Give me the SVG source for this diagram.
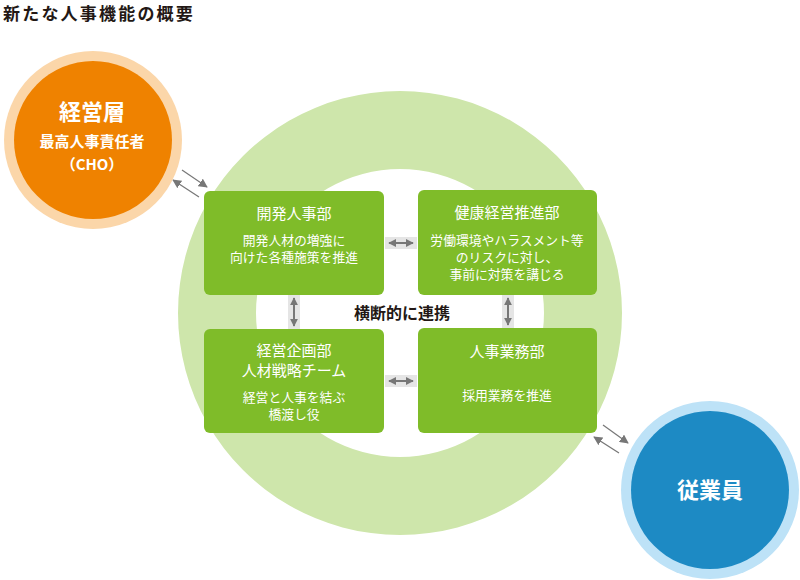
<svg xmlns="http://www.w3.org/2000/svg" width="800" height="580" viewBox="0 0 800 580">
<defs>
<style>
.t{font-family:"Noto Sans CJK JP","Noto Sans",sans-serif;}
.title{font-size:17px;font-weight:bold;fill:#231815;}
.box{fill:#7fbc29;}
.bt{font-size:15px;fill:#fff;text-anchor:middle;font-weight:normal;}
.bd{font-size:12.8px;fill:#fff;text-anchor:middle;}
.cw{fill:#fff;text-anchor:middle;font-weight:bold;}
.conn{stroke:#777;stroke-width:1.2;fill:none;}
.gbg{fill:#e5e5e5;}
.dbl{stroke:#777;stroke-width:2;fill:none;}
</style>
<marker id="ah" viewBox="0 0 10 10" refX="9" refY="5" markerWidth="9" markerHeight="9" markerUnits="userSpaceOnUse" orient="auto"><path d="M0,0 L10,5 L0,10 z" fill="#777"/></marker>
<marker id="ah2" viewBox="0 0 10 10" refX="9" refY="5" markerWidth="8" markerHeight="8" markerUnits="userSpaceOnUse" orient="auto-start-reverse"><path d="M0,0 L10,5 L0,10 z" fill="#777"/></marker>
</defs>
<rect width="800" height="580" fill="#fff"/>
<text class="t title" x="3" y="19.5" letter-spacing="2.2">新たな人事機能の概要</text>

<g id="ring">
<path d="M400,91 a222,222 0 1,0 0.01,0 z M400,169 a144,144 0 1,1 -0.01,0 z" fill="#cee6ab" fill-rule="evenodd"/>
</g>

<g id="connectors">
<line class="conn" x1="182" y1="170" x2="207" y2="187" marker-end="url(#ah)"/>
<line class="conn" x1="199" y1="197" x2="173" y2="180" marker-end="url(#ah)"/>
<line class="conn" x1="603" y1="425" x2="628" y2="443" marker-end="url(#ah)"/>
<line class="conn" x1="619" y1="453" x2="594" y2="437" marker-end="url(#ah)"/>
<rect class="gbg" x="385" y="237" width="32" height="12"/>
<line class="dbl" x1="389" y1="243" x2="413" y2="243" marker-start="url(#ah2)" marker-end="url(#ah2)"/>
<rect class="gbg" x="385" y="375" width="32" height="12"/>
<line class="dbl" x1="389" y1="381" x2="413" y2="381" marker-start="url(#ah2)" marker-end="url(#ah2)"/>
<rect class="gbg" x="288" y="295" width="12" height="34"/>
<line class="dbl" x1="294" y1="298" x2="294" y2="326" marker-start="url(#ah2)" marker-end="url(#ah2)"/>
<rect class="gbg" x="502" y="295" width="12" height="33"/>
<line class="dbl" x1="508" y1="298" x2="508" y2="325" marker-start="url(#ah2)" marker-end="url(#ah2)"/>
</g>

<text class="t" x="402" y="319" font-size="16" font-weight="bold" fill="#231815" text-anchor="middle">横断的に連携</text>

<g id="executive">
<circle cx="93" cy="140" r="89" fill="#fbd6a9"/>
<circle cx="93" cy="140" r="79" fill="#ef8200"/>
<text class="t cw" x="92" y="120" font-size="22">経営層</text>
<text class="t cw" x="92" y="147" font-size="15">最高人事責任者</text>
<text class="t cw" x="92" y="170" font-size="15">（CHO）</text>
</g>

<g id="employee">
<circle cx="710" cy="490" r="89" fill="#bde2f7"/>
<circle cx="710" cy="490" r="79" fill="#1d8ac4"/>
<text class="t cw" x="710" y="498" font-size="22">従業員</text>
</g>

<g id="dev-hr">
<rect class="box" x="204" y="191" width="180" height="104" rx="6"/>
<text class="t bt" x="294" y="219">開発人事部</text>
<text class="t bd" x="294" y="245">開発人材の増強に<tspan x="294" dy="17">向けた各種施策を推進</tspan></text>
</g>

<g id="health">
<rect class="box" x="418" y="190" width="179" height="105" rx="6"/>
<text class="t bt" x="507" y="218">健康経営推進部</text>
<text class="t bd" x="507" y="245">労働環境やハラスメント等<tspan x="507" dy="17">のリスクに対し、</tspan><tspan x="507" dy="16.5">事前に対策を講じる</tspan></text>
</g>

<g id="planning">
<rect class="box" x="204" y="329" width="180" height="104" rx="6"/>
<text class="t bt" x="294" y="356">経営企画部<tspan x="294" dy="20">人材戦略チーム</tspan></text>
<text class="t bd" x="294" y="402">経営と人事を結ぶ<tspan x="294" dy="17">橋渡し役</tspan></text>
</g>

<g id="operations">
<rect class="box" x="418" y="328" width="179" height="105" rx="6"/>
<text class="t bt" x="507" y="357">人事業務部</text>
<text class="t bd" x="507" y="400">採用業務を推進</text>
</g>
</svg>
